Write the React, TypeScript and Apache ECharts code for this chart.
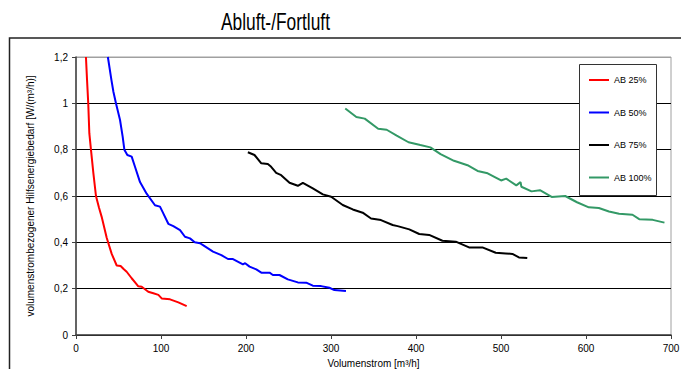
import React, { useEffect, useRef } from "react";
import * as echarts from "echarts";

const seriesNames = ["AB 25%", "AB 50%", "AB 75%", "AB 100%"];
const seriesColors = ["#FF0000", "#0000FF", "#000000", "#339966"];

const ab25: number[][] = [
  [11.7, 1.2], [13, 1.1], [14.4, 1.0], [15.7, 0.87], [17.6, 0.8], [20.4, 0.7], [23.5, 0.6],
  [27, 0.55], [30.2, 0.51], [36.1, 0.42], [42, 0.35], [47.9, 0.3], [52.5, 0.298], [56, 0.285],
  [59.6, 0.273], [65.5, 0.245], [70, 0.225], [73.3, 0.21], [77.3, 0.208], [85, 0.187],
  [91, 0.18], [96.9, 0.173], [100.8, 0.158], [110.6, 0.154], [120.4, 0.141], [130.2, 0.125],
];

const ab50: number[][] = [
  [37.5, 1.2], [41.7, 1.1], [44, 1.05], [47, 1.0], [51.8, 0.928], [54.9, 0.856], [56.9, 0.8],
  [60.4, 0.777], [65.5, 0.77], [69.4, 0.726], [75.3, 0.66], [83.1, 0.61], [92.9, 0.56],
  [98.8, 0.554], [102.7, 0.525], [108.6, 0.48], [114.5, 0.47], [122.4, 0.453], [128.2, 0.424],
  [134.1, 0.417], [139.7, 0.4], [145.9, 0.396], [149.4, 0.388], [161.2, 0.36], [171, 0.345],
  [178.8, 0.328], [184.7, 0.328], [196.4, 0.305], [199, 0.31], [204.2, 0.295], [212.1, 0.283],
  [218, 0.269], [227.7, 0.269], [231.6, 0.259], [239.4, 0.259], [249.2, 0.24], [261, 0.227],
  [270.8, 0.226], [278.6, 0.213], [288.4, 0.211], [298.1, 0.204], [304, 0.194], [317.6, 0.19],
];

const ab75: number[][] = [
  [202.2, 0.789], [210, 0.777], [218, 0.741], [225.7, 0.738], [229.6, 0.726], [235.5, 0.7],
  [241.4, 0.69], [251.2, 0.657], [261, 0.644], [266.9, 0.657], [278.6, 0.633], [290.4, 0.607],
  [300.2, 0.597], [313.8, 0.561], [325.6, 0.542], [337.3, 0.528], [347.1, 0.503], [358.8, 0.496],
  [372.5, 0.475], [378.4, 0.47], [392.1, 0.456], [403.8, 0.436], [415.5, 0.432], [431.1, 0.407],
  [446.8, 0.403], [462.4, 0.378], [478.1, 0.378], [493.8, 0.355], [505.5, 0.352], [513.4, 0.35],
  [521.1, 0.335], [530.9, 0.332],
];

const ab100: number[][] = [
  [316.8, 0.978], [329.8, 0.941], [339.7, 0.934], [355.5, 0.89], [365.5, 0.886], [377.3, 0.861],
  [391.2, 0.832], [405.1, 0.82], [416.9, 0.81], [428.9, 0.781], [444.7, 0.752], [460.6, 0.733],
  [472.4, 0.708], [484.3, 0.698], [500.1, 0.667], [506.1, 0.675], [518, 0.646], [523, 0.66],
  [524, 0.64], [535.9, 0.62], [545.8, 0.625], [559.6, 0.596], [575.5, 0.6], [589.4, 0.573],
  [603.3, 0.551], [615.1, 0.548], [627, 0.533], [638.9, 0.523], [654.7, 0.519], [662.6, 0.5],
  [678.5, 0.497], [692.3, 0.485],
];

const seriesData = [ab25, ab50, ab75, ab100];

const titleText = "Abluft-/Fortluft";
const xAxisName = "Volumenstrom [m³/h]";
const yAxisName = "volumenstrombezogener Hilfsenergiebedarf [W/(m³/h)]";

const FONT = "'Liberation Sans', Arial, sans-serif";

export default function App() {
  const ref = useRef<HTMLDivElement>(null);
  useEffect(() => {
    if (!ref.current) return;
    const chart = echarts.init(ref.current, null, { renderer: "svg" });
    chart.setOption({
      animation: false,
      backgroundColor: "#ffffff",
      textStyle: { fontFamily: FONT },
      graphic: [
        {
          type: "rect",
          shape: { x: 9.5, y: 38, width: 700, height: 400 },
          style: { fill: "none", stroke: "#222", lineWidth: 1.5 },
          z: 0,
          silent: true,
        },
        {
          type: "text",
          x: 221,
          y: 11,
          scaleX: 0.755,
          style: {
            text: titleText,
            fontSize: 23,
            fontFamily: FONT,
            fill: "#000",
          },
        },
        {
          type: "rect",
          shape: { x: 579.5, y: 64.5, width: 77, height: 131 },
          style: { fill: "#fff", stroke: "#333", lineWidth: 1 },
          z: 3,
        },
      ],
      legend: {
        data: seriesNames,
        orient: "vertical",
        left: 589,
        top: 74,
        padding: 0,
        itemWidth: 20,
        itemHeight: 2,
        itemGap: 20.5,
        icon: "rect",
        z: 5,
        textStyle: { fontSize: 9, lineHeight: 12, color: "#000", fontFamily: FONT },
      },
      grid: {
        left: 76,
        right: 10,
        top: 57,
        bottom: 34,
        show: true,
        borderColor: "#a0a0a0",
        borderWidth: 1,
        outerBoundsMode: "none",
        containLabel: false,
      },
      xAxis: {
        type: "value",
        min: 0,
        max: 700,
        interval: 100,
        name: xAxisName,
        nameLocation: "middle",
        nameGap: 22,
        nameTextStyle: { fontSize: 10, lineHeight: 11, color: "#000", fontFamily: FONT },
        axisLine: { show: true, lineStyle: { color: "#404040", width: 1.5 } },
        axisTick: { show: true, length: 4, lineStyle: { color: "#404040" } },
        axisLabel: { fontSize: 10, color: "#000", margin: 8, fontFamily: FONT },
        splitLine: { show: false },
      },
      yAxis: {
        type: "value",
        min: 0,
        max: 1.2,
        interval: 0.2,
        name: yAxisName,
        nameLocation: "middle",
        nameGap: 41,
        nameTextStyle: { fontSize: 10, color: "#000", fontFamily: FONT },
        axisLine: { show: true, lineStyle: { color: "#404040", width: 1.5 } },
        axisTick: { show: true, length: 4, lineStyle: { color: "#404040" } },
        axisLabel: {
          fontSize: 10,
          color: "#000",
          margin: 8,
          fontFamily: FONT,
          formatter: (v: number) => String(Math.round(v * 10) / 10).replace(".", ","),
        },
        splitLine: {
          show: true,
          lineStyle: {
            color: ["#000", "#000", "#000", "#000", "#000", "#000", "#a0a0a0"],
            width: 1,
          },
        },
      },
      series: seriesNames.map((name, i) => ({
        name,
        type: "line",
        data: seriesData[i],
        showSymbol: false,
        symbol: "none",
        clip: true,
        lineStyle: { color: seriesColors[i], width: 2 },
        itemStyle: { color: seriesColors[i] },
      })),
    });
    return () => chart.dispose();
  }, []);
  return (
    <div style={{ position: "fixed", left: 0, top: 0, width: 681, height: 369, background: "#fff" }}>
      <div ref={ref} style={{ width: 681, height: 369 }} />
    </div>
  );
}
